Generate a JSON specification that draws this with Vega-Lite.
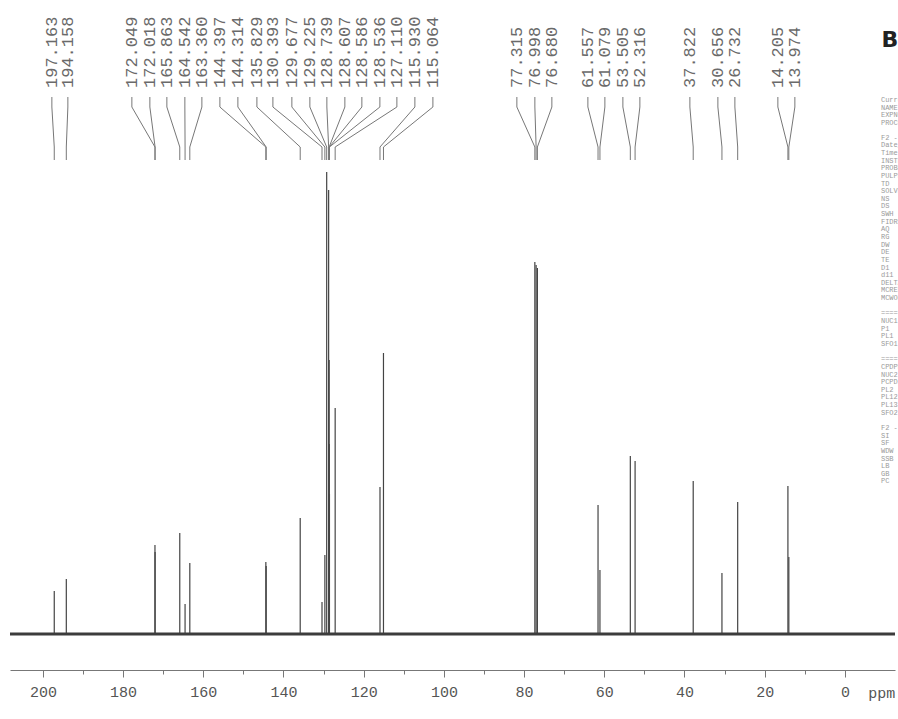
{
  "$schema": "https://vega.github.io/schema/vega-lite/v6.json",
  "width": 885,
  "height": 670,
  "autosize": {"type": "none"},
  "padding": {"left": 10, "top": 0, "right": 3, "bottom": 49},
  "background": "#ffffff",
  "config": {"view": {"stroke": null}},
  "datasets": {
    "peaks": [
      {"ppm": 197.163, "label": "197.163", "labelx": 197.76, "h": 43},
      {"ppm": 194.158, "label": "194.158", "labelx": 193.77, "h": 55},
      {"ppm": 172.049, "label": "172.049", "labelx": 177.81, "h": 89},
      {"ppm": 172.018, "label": "172.018", "labelx": 173.32, "h": 82},
      {"ppm": 165.863, "label": "165.863", "labelx": 169.08, "h": 101},
      {"ppm": 164.542, "label": "164.542", "labelx": 164.59, "h": 30},
      {"ppm": 163.36, "label": "163.360", "labelx": 160.35, "h": 71},
      {"ppm": 144.397, "label": "144.397", "labelx": 155.86, "h": 72},
      {"ppm": 144.314, "label": "144.314", "labelx": 151.37, "h": 68},
      {"ppm": 135.829, "label": "135.829", "labelx": 146.63, "h": 116},
      {"ppm": 130.393, "label": "130.393", "labelx": 142.64, "h": 32},
      {"ppm": 129.677, "label": "129.677", "labelx": 137.91, "h": 79},
      {"ppm": 129.225, "label": "129.225", "labelx": 133.42, "h": 462},
      {"ppm": 128.739, "label": "128.739", "labelx": 129.18, "h": 444},
      {"ppm": 128.607, "label": "128.607", "labelx": 124.69, "h": 274},
      {"ppm": 128.586, "label": "128.586", "labelx": 120.45, "h": 190},
      {"ppm": 128.536, "label": "128.536", "labelx": 115.96, "h": 140},
      {"ppm": 127.11, "label": "127.110", "labelx": 111.72, "h": 226},
      {"ppm": 115.93, "label": "115.930", "labelx": 107.23, "h": 147},
      {"ppm": 115.064, "label": "115.064", "labelx": 102.74, "h": 281},
      {"ppm": 77.315, "label": "77.315", "labelx": 81.8, "h": 372},
      {"ppm": 76.998, "label": "76.998", "labelx": 77.31, "h": 369},
      {"ppm": 76.68, "label": "76.680", "labelx": 73.07, "h": 366},
      {"ppm": 61.557, "label": "61.557", "labelx": 64.09, "h": 129},
      {"ppm": 61.079, "label": "61.079", "labelx": 59.85, "h": 64},
      {"ppm": 53.505, "label": "53.505", "labelx": 55.36, "h": 178},
      {"ppm": 52.316, "label": "52.316", "labelx": 51.12, "h": 173},
      {"ppm": 37.822, "label": "37.822", "labelx": 38.65, "h": 153},
      {"ppm": 30.656, "label": "30.656", "labelx": 31.67, "h": 61},
      {"ppm": 26.732, "label": "26.732", "labelx": 27.43, "h": 132},
      {"ppm": 14.205, "label": "14.205", "labelx": 16.71, "h": 148},
      {"ppm": 13.974, "label": "13.974", "labelx": 12.47, "h": 77}
    ]
  },
  "layer": [
    {
      "data": {"name": "peaks"},
      "mark": {"type": "rule", "color": "#444444", "strokeWidth": 1.2},
      "encoding": {
        "x": {
          "field": "ppm", "type": "quantitative",
          "scale": {"domain": [208.2, -12.5], "nice": false, "zero": false},
          "axis": {
            "values": [200, 190, 180, 170, 160, 150, 140, 130, 120, 110, 100, 90, 80, 70, 60, 50, 40, 30, 20, 10, 0],
            "labelExpr": "datum.value % 20 === 0 ? datum.label : ''",
            "title": null,
            "grid": false,
            "domainColor": "#777777",
            "domainWidth": 1,
            "tickColor": "#777777",
            "tickWidth": 1,
            "tickSize": {"condition": {"test": "datum.value % 20 !== 0", "value": 4}, "value": 7},
            "labelFont": "Liberation Mono",
            "labelFontSize": 15,
            "labelColor": "#555555",
            "labelPadding": 7,
            "labelFlush": false
          }
        },
        "y": {"field": "h", "type": "quantitative", "scale": {"domain": [-36, 634], "nice": false, "zero": false}, "axis": null},
        "y2": {"datum": 0}
      }
    },
    {
      "data": {"values": [{"t": "base", "v": 0}]},
      "mark": {"type": "rule", "color": "#3c3c3c", "strokeWidth": 3},
      "encoding": {"y": {"field": "v", "type": "quantitative"}}
    },
    {
      "data": {"name": "peaks"},
      "mark": {"type": "rule", "color": "#777777", "strokeWidth": 1},
      "encoding": {
        "x": {"field": "labelx", "type": "quantitative"},
        "y": {"datum": 537},
        "y2": {"datum": 527}
      }
    },
    {
      "data": {"name": "peaks"},
      "mark": {"type": "rule", "color": "#777777", "strokeWidth": 1},
      "encoding": {
        "x": {"field": "labelx", "type": "quantitative"},
        "x2": {"field": "ppm"},
        "y": {"datum": 527},
        "y2": {"datum": 487}
      }
    },
    {
      "data": {"name": "peaks"},
      "mark": {"type": "rule", "color": "#777777", "strokeWidth": 1},
      "encoding": {
        "x": {"field": "ppm", "type": "quantitative"},
        "y": {"datum": 487},
        "y2": {"datum": 474}
      }
    },
    {
      "data": {"name": "peaks"},
      "mark": {"type": "text", "angle": 270, "align": "left", "baseline": "middle", "font": "Liberation Mono", "fontSize": 17, "color": "#6a6a6a"},
      "encoding": {
        "x": {"field": "labelx", "type": "quantitative"},
        "y": {"datum": 546},
        "text": {"field": "label"}
      }
    },
    {
      "data": {"values": [{"t": "ppm"}]},
      "mark": {"type": "text", "align": "center", "baseline": "middle", "font": "Liberation Mono", "fontSize": 15, "color": "#555555"},
      "encoding": {
        "x": {"datum": -9.2},
        "y": {"datum": -59},
        "text": {"field": "t"}
      }
    },
    {
      "data": {"values": [{"t": "B"}]},
      "mark": {"type": "text", "align": "center", "baseline": "middle", "font": "DejaVu Sans", "fontWeight": "bold", "fontSize": 22, "color": "#222222"},
      "encoding": {
        "x": {"datum": -11.2},
        "y": {"datum": 594},
        "text": {"field": "t"}
      }
    },
    {
      "data": {"values": [{"t": "Current Data Parameters\nNAME\nEXPNO\nPROCNO"}]},
      "mark": {"type": "text", "align": "left", "baseline": "top", "lineBreak": "\n", "lineHeight": 7.64, "font": "Liberation Mono", "fontSize": 7, "color": "#9a9a9a"},
      "encoding": {"x": {"datum": -9.0}, "y": {"datum": 538}, "text": {"field": "t"}}
    },
    {
      "data": {"values": [{"t": "F2 - Acquisition Parameters\nDate_\nTime\nINSTRUM\nPROBHD\nPULPROG\nTD\nSOLVENT\nNS\nDS\nSWH\nFIDRES\nAQ\nRG\nDW\nDE\nTE\nD1\nd11\nDELTA\nMCREST\nMCWORK"}]},
      "mark": {"type": "text", "align": "left", "baseline": "top", "lineBreak": "\n", "lineHeight": 7.64, "font": "Liberation Mono", "fontSize": 7, "color": "#9a9a9a"},
      "encoding": {"x": {"datum": -9.0}, "y": {"datum": 500.3}, "text": {"field": "t"}}
    },
    {
      "data": {"values": [{"t": "======== CHANNEL f1 ========\nNUC1\nP1\nPL1\nSFO1"}]},
      "mark": {"type": "text", "align": "left", "baseline": "top", "lineBreak": "\n", "lineHeight": 7.64, "font": "Liberation Mono", "fontSize": 7, "color": "#9a9a9a"},
      "encoding": {"x": {"datum": -9.0}, "y": {"datum": 324.6}, "text": {"field": "t"}}
    },
    {
      "data": {"values": [{"t": "======== CHANNEL f2 ========\nCPDPRG2\nNUC2\nPCPD2\nPL2\nPL12\nPL13\nSFO2"}]},
      "mark": {"type": "text", "align": "left", "baseline": "top", "lineBreak": "\n", "lineHeight": 7.64, "font": "Liberation Mono", "fontSize": 7, "color": "#9a9a9a"},
      "encoding": {"x": {"datum": -9.0}, "y": {"datum": 278.7}, "text": {"field": "t"}}
    },
    {
      "data": {"values": [{"t": "F2 - Processing parameters\nSI\nSF\nWDW\nSSB\nLB\nGB\nPC"}]},
      "mark": {"type": "text", "align": "left", "baseline": "top", "lineBreak": "\n", "lineHeight": 7.64, "font": "Liberation Mono", "fontSize": 7, "color": "#9a9a9a"},
      "encoding": {"x": {"datum": -9.0}, "y": {"datum": 210.0}, "text": {"field": "t"}}
    }
  ]
}
